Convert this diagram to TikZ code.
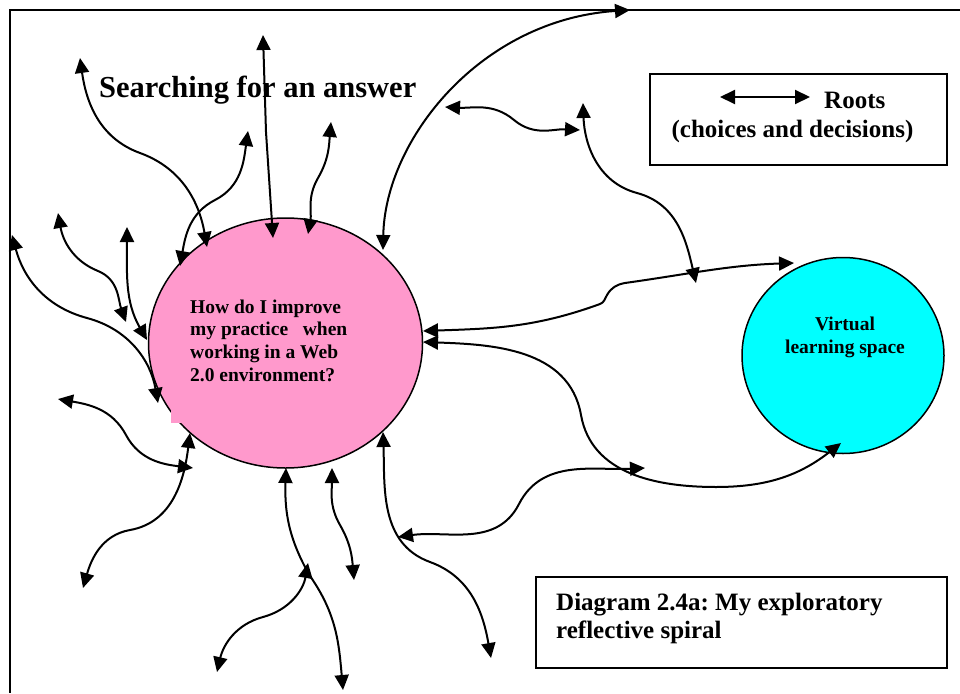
\documentclass[tikz,border=0pt]{standalone}
\usepackage{fontspec}
\setmainfont{Liberation Serif}
\usetikzlibrary{arrows.meta,shapes.geometric}
\definecolor{pinkfill}{HTML}{FF99CC}
\definecolor{cyanfill}{HTML}{00FFFF}
\frenchspacing
\begin{document}
\begin{tikzpicture}[x=1pt,y=-1pt,
  root/.style={line width=2pt,{Triangle[length=15pt,width=14pt]}-{Triangle[length=15pt,width=14pt]}},
  frameline/.style={line width=2pt},
  boxline/.style={line width=1.5pt},
  qtext/.style={anchor=base west,inner sep=0pt,font=\fontsize{19.5}{22.5}\selectfont\bfseries},
  vtext/.style={anchor=base,inner sep=0pt,font=\fontsize{19.5}{22.5}\selectfont\bfseries},
  btext/.style={inner sep=0pt,font=\fontsize{25}{28}\selectfont\bfseries},
  bubble/.style={ellipse,draw,line width=1.5pt,inner sep=0pt}]
\useasboundingbox (0,0) rectangle (960,693);
% frame
\draw[frameline] (960,10) -- (10,10) -- (10,693);
% title
\node[anchor=base west,inner sep=0pt,font=\fontsize{30.5}{36}\selectfont\bfseries] (title) at (99,97) {Searching for an answer};
% pink bubble
\node[bubble,fill=pinkfill,minimum width=274pt,minimum height=250pt] (pink) at (285.5,343) {};
\fill[pinkfill] (171,280) rectangle (380,423);
\node[qtext] (q1) at (190,313) {How do I improve};
\node[qtext] (q2) at (190,335.5) {my practice\ \ \ when};
\node[qtext] (q3) at (190,358) {working in a Web};
\node[qtext] (q4) at (190,381) {2.0 environment?};
% cyan bubble
\node[bubble,fill=cyanfill,minimum width=202pt,minimum height=196pt] (cyan) at (843,355.5) {};
\node[vtext] (v1) at (845,330) {Virtual};
\node[vtext] (v2) at (845,353) {learning space};
% legend box
\draw[boxline] (650,74) rectangle (947,165);
\coordinate (legL) at (720,97);
\coordinate (legR) at (810,97);
\draw[root] (legL) -- (legR);
\node[btext,anchor=base west] (roots) at (824,108) {Roots};
\node[btext,anchor=base] (choices) at (792.5,137) {(choices and decisions)};
% caption box
\draw[boxline] (536,577) rectangle (947,668);
\node[btext,anchor=base west] (cap1) at (556,610) {Diagram 2.4a: My exploratory};
\node[btext,anchor=base west] (cap2) at (556,638) {reflective spiral};
% end points and bends
\coordinate (a1) at (80,58);   \coordinate (a2) at (207,247);  \coordinate (am) at (140,153);
\coordinate (b1) at (263,35);  \coordinate (b2) at (273,238);  \coordinate (bm) at (266,132);
\coordinate (c1) at (331,122); \coordinate (c2) at (308,234);  \coordinate (cm) at (318,178);
\coordinate (d1) at (248,131); \coordinate (d2) at (180,266);  \coordinate (dm) at (215,200);
\coordinate (e1) at (58,213);  \coordinate (e2) at (126,322);  \coordinate (em) at (98,271);
\coordinate (f1) at (127,227); \coordinate (f2) at (147,340);
\coordinate (g1) at (12,235);  \coordinate (g2) at (158,403);  \coordinate (gm) at (87,318);
\coordinate (h1) at (58,399);  \coordinate (h2) at (193,468);  \coordinate (hm) at (126,435);
\coordinate (i1) at (190,433); \coordinate (i2) at (83,588);   \coordinate (im) at (130,530);
\coordinate (j1) at (286,468); \coordinate (j2) at (343,690);  \coordinate (jm) at (310,576);
\coordinate (k1) at (308,563); \coordinate (k2) at (217,672);  \coordinate (km) at (263,617);
\coordinate (l1) at (332,468); \coordinate (l2) at (354,580);  \coordinate (lm) at (340,525);
\coordinate (m1) at (383,432); \coordinate (m2) at (491,658);  \coordinate (mm) at (430,562);
\coordinate (n1) at (398,537); \coordinate (n2) at (645,468);  \coordinate (nm) at (519,504);
\coordinate (o1) at (423,342); \coordinate (o2) at (841,443);  \coordinate (om) at (581,415); \coordinate (on) at (716,487);
\coordinate (p1) at (423,331); \coordinate (p2) at (794,263);
\coordinate (pa) at (600,304); \coordinate (pb) at (607,295);  \coordinate (pc) at (625,283);
\coordinate (r1) at (583,103); \coordinate (r2) at (696,283);  \coordinate (rm) at (637,193);
\coordinate (s1) at (445,107); \coordinate (s2) at (580,130);  \coordinate (sm) at (514,120);
\coordinate (t1) at (383,250); \coordinate (t2) at (630,10);
% roots (angles are page angles: negative = downwards)
\draw[root] (a1) to[out=-82,in=-200] (am) to[out=-20,in=-260] (a2);
\draw[root] (b1) -- (bm) -- (b2);
\draw[root] (c1) to[out=-95,in=60] (cm) to[out=-120,in=80] (c2);
\draw[root] (d1) to[out=-98,in=27] (dm) to[out=-153,in=80] (d2);
\draw[root] (e1) to[out=-80,in=-202] (em) to[out=-22,in=-250] (e2);
\draw[root] (f1) to[out=-90,in=-240] (f2);
\draw[root] (g1) to[out=-75,in=-195] (gm) to[out=-15,in=-260] (g2);
\draw[root] (h1) to[out=-10,in=-242] (hm) to[out=-62,in=-187] (h2);
\draw[root] (i1) to[out=-97,in=10] (im) to[out=-170,in=74] (i2);
\draw[root] (j1) to[out=-92,in=-240] (jm) to[out=-55,in=-265] (j2);
\draw[root] (k1) to[out=-100,in=15] (km) to[out=-165,in=77] (k2);
\draw[root] (l1) to[out=-90,in=-240] (lm) to[out=-60,in=-265] (l2);
\draw[root] (m1) to[out=-88,in=-200] (mm) to[out=-20,in=-260] (m2);
\draw[root] (n1) to[out=8,in=-117] (nm) to[out=63,in=-177] (n2);
\draw[root] (o1) to[out=-2,in=-260] (om) to[out=-80,in=-180] (on) to[out=0,in=-142] (o2);
\draw[root] (p1) to[out=2,in=200] (pa) to[out=20,in=-120] (pb) to[out=60,in=190] (pc) to[out=8,in=-178] (p2);
\draw[root] (r1) to[out=-88,in=-195] (rm) to[out=-15,in=-257] (r2);
\draw[root] (s1) to[out=-3,in=-220] (sm) to[out=-40,in=-183] (s2);
\draw[root] (t1) .. controls (385,140) and (480,20) .. (t2);
\end{tikzpicture}
\end{document}
